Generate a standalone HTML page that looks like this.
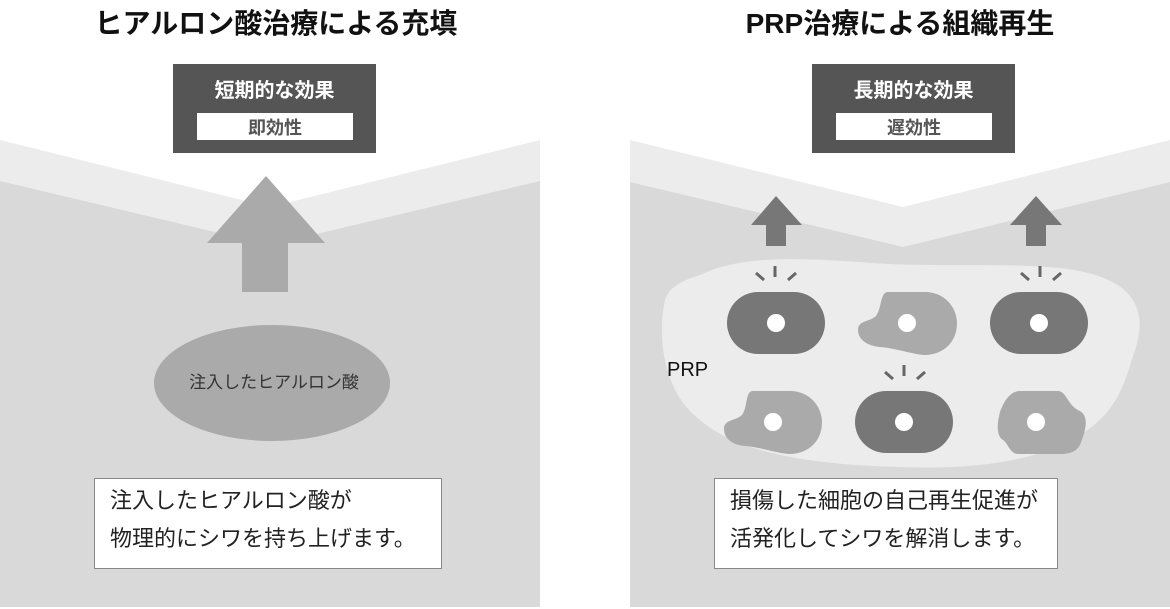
<!DOCTYPE html>
<html><head><meta charset="utf-8"><style>
html,body{margin:0;padding:0;background:#fff;}
svg{display:block;}
text{font-family:"Liberation Sans","Noto Sans CJK JP",sans-serif;}
</style></head><body>
<svg width="1170" height="609" viewBox="0 0 1170 609" xmlns="http://www.w3.org/2000/svg">
<polygon points="0,140 270,207 540,140 540,607 0,607" fill="#ececec"/>
<polygon points="0,181 270,245 540,181 540,607 0,607" fill="#d9d9d9"/>
<polygon points="630,140 903,207 1170,140 1170,607 630,607" fill="#ececec"/>
<polygon points="630,182 903,247 1170,182 1170,607 630,607" fill="#d9d9d9"/>

<text x="276" y="33" font-size="28" font-weight="bold" text-anchor="middle" fill="#111">ヒアルロン酸治療による充填</text>
<text x="900" y="33" font-size="28" font-weight="bold" text-anchor="middle" fill="#111">PRP治療による組織再生</text>

<rect x="173" y="64" width="203" height="89" fill="#555"/>
<text x="274.5" y="97" font-size="20" font-weight="bold" text-anchor="middle" fill="#fff">短期的な効果</text>
<rect x="197" y="113" width="156" height="27" fill="#fff"/>
<text x="275" y="134" font-size="18" font-weight="bold" text-anchor="middle" fill="#555">即効性</text>

<rect x="812" y="64" width="203" height="89" fill="#555"/>
<text x="913.5" y="97" font-size="20" font-weight="bold" text-anchor="middle" fill="#fff">長期的な効果</text>
<rect x="836" y="113" width="156" height="27" fill="#fff"/>
<text x="914" y="134" font-size="18" font-weight="bold" text-anchor="middle" fill="#555">遅効性</text>

<polygon points="266,176 325,243 288,243 288,292 242,292 242,243 207,243" fill="#aaa"/>
<ellipse cx="272" cy="383" rx="118" ry="58" fill="#aaa"/>
<text x="274" y="388" font-size="17" text-anchor="middle" fill="#333">注入したヒアルロン酸</text>

<rect x="94.5" y="478.5" width="347" height="90" fill="#fff" stroke="#888"/>
<text x="110" y="508" font-size="22" fill="#222">注入したヒアルロン酸が</text>
<text x="110" y="546" font-size="22" fill="#222">物理的にシワを持ち上げます。</text>

<polygon points="776,196 802,225 786,225 786,246 766,246 766,225 751,225" fill="#777"/>
<polygon points="1036,196 1062,225 1046,225 1046,246 1026,246 1026,225 1010,225" fill="#777"/>

<path d="M700,275 C740,255 800,258 860,262 C920,268 1000,262 1060,268 C1130,276 1150,305 1135,350 C1125,380 1120,410 1080,435 C1040,460 980,470 900,467 C820,465 740,455 700,420 C660,390 658,330 665,300 C670,285 685,280 700,275 Z" fill="#ececec"/>
<text x="667" y="376" font-size="20" fill="#111">PRP</text>

<rect x="727" y="292" width="98" height="62" rx="31" fill="#777"/>
<rect x="990" y="292" width="98" height="62" rx="31" fill="#777"/>
<rect x="855" y="391" width="98" height="62" rx="31" fill="#777"/>
<path d="M888,292 L925,292 C945,292 957,308 957,323 C957,345 940,355 925,355 C915,355 895,348 880,347 C868,346 858,340 858,330 C858,320 870,322 876,316 C882,308 880,292 888,292 Z" fill="#aaa"/>
<path d="M753,391 L790,391 C810,391 822,407 822,422 C822,444 805,454 790,454 C780,454 760,447 745,446 C733,445 724,439 724,429 C724,419 736,421 742,415 C748,407 745,391 753,391 Z" fill="#aaa"/>
<path d="M1020,391 L1058,391 C1066,391 1068,405 1078,410 C1090,415 1086,430 1080,445 C1075,454 1065,454 1058,454 C1050,454 1022,454 1018,454 C1010,454 1008,443 1003,440 C995,435 998,420 1000,412 C1005,398 1012,391 1020,391 Z" fill="#aaa"/>
<g fill="#fff">
<circle cx="776" cy="323" r="9"/>
<circle cx="907" cy="323" r="9"/>
<circle cx="1039" cy="323" r="9"/>
<circle cx="773" cy="422" r="9"/>
<circle cx="904" cy="422" r="9"/>
<circle cx="1036" cy="422" r="9"/>
</g>
<g stroke="#666" stroke-width="3">
<line x1="775" y1="266" x2="775" y2="277"/><line x1="756" y1="273" x2="764" y2="280"/><line x1="796" y1="273" x2="788" y2="280"/>
<line x1="1040" y1="266" x2="1040" y2="277"/><line x1="1021" y1="273" x2="1029" y2="280"/><line x1="1061" y1="273" x2="1053" y2="280"/>
<line x1="904" y1="365" x2="904" y2="376"/><line x1="885" y1="372" x2="893" y2="379"/><line x1="925" y1="372" x2="917" y2="379"/>
</g>

<rect x="714.5" y="478.5" width="343" height="90" fill="#fff" stroke="#888"/>
<text x="730" y="508" font-size="22" fill="#222">損傷した細胞の自己再生促進が</text>
<text x="730" y="546" font-size="22" fill="#222">活発化してシワを解消します。</text>
</svg>
</body></html>
